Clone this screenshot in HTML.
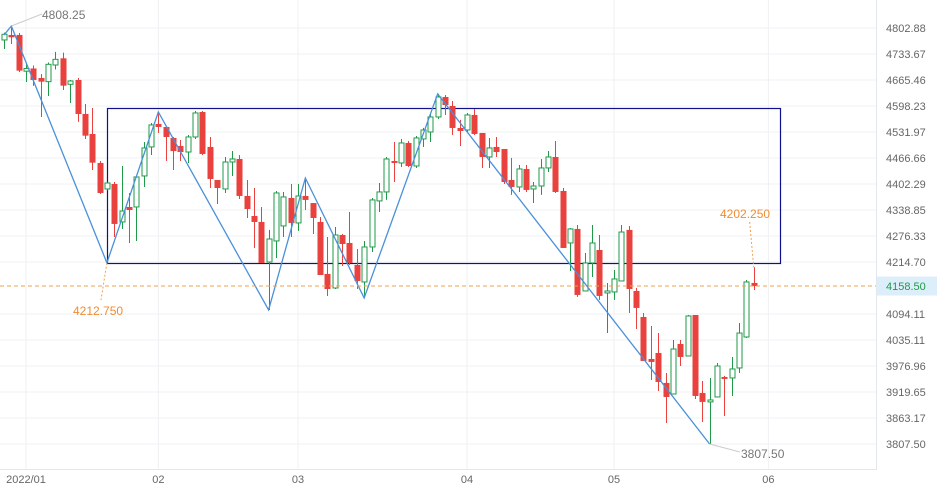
<!DOCTYPE html>
<html><head><meta charset="utf-8"><style>
html,body{margin:0;padding:0;background:#fff;}
svg{display:block;font-family:"Liberation Sans",sans-serif;}
</style></head><body>
<svg id="chart" width="937" height="499" viewBox="0 0 937 499" xmlns="http://www.w3.org/2000/svg">
<rect x="0" y="0" width="937" height="499" fill="#fff"/>
<g id="grid"></g>
<g id="box"></g>
<g id="candles"></g>
<g id="zig"></g>
<g id="ann"></g>
<g id="yaxis"></g>
<g id="xaxis"></g>
</svg>
<script>
const opens=[4770.9,4784.3,4784.3,4688.5,4695.6,4670.7,4661.1,4704.7,4722.3,4654.3,4665.5,4577.8,4527.0,4454.3,4390.1,4402.3,4310.0,4346.2,4346.2,4422.1,4494.3,4552.4,4544.7,4516.9,4496.8,4481.6,4519.4,4582.9,4494.3,4412.2,4390.1,4456.7,4464.2,4373.0,4324.4,4310.0,4214.7,4264.5,4300.4,4368.1,4307.6,4373.0,4355.7,4310.0,4186.7,4154.0,4278.7,4259.7,4207.7,4168.0,4250.2,4360.9,4382.8,4459.2,4454.3,4504.3,4446.8,4514.4,4532.0,4570.2,4621.5,4598.2,4542.2,4537.1,4575.3,4529.5,4469.2,4494.3,4489.2,4412.2,4395.0,4439.4,4390.1,4397.4,4441.9,4469.2,4385.2,4259.7,4293.2,4147.1,4212.4,4243.1,4142.5,4144.8,4170.3,4290.9,4147.1,4087.3,3992.6,4006.0,3939.5,3915.3,4026.2,3999.3,4091.8,3917.5,3898.0,3908.8,3952.7,3950.5,3972.6,4041.9,4165.7];
const highs=[4790.4,4808.25,4789.6,4711.4,4703.5,4681.2,4711.4,4739.2,4737.3,4665.5,4670.7,4603.4,4593.1,4459.2,4407.0,4407.2,4446.8,4380.3,4419.6,4506.8,4554.9,4582.9,4544.7,4519.4,4511.9,4524.4,4585.5,4585.5,4519.4,4412.2,4469.2,4484.0,4474.2,4412.2,4392.5,4346.2,4291.0,4385.2,4382.8,4402.3,4402.3,4412.2,4355.7,4322.0,4274.0,4297.9,4281.1,4334.0,4245.5,4264.5,4368.1,4404.7,4469.2,4506.8,4514.4,4509.3,4521.9,4542.3,4580.4,4629.3,4626.7,4611.0,4562.6,4580.4,4590.6,4529.5,4516.9,4519.4,4489.2,4466.7,4449.3,4449.3,4407.2,4464.2,4484.0,4509.3,4392.5,4295.5,4302.8,4235.9,4302.8,4278.7,4165.7,4196.0,4302.8,4300.4,4154.0,4096.4,4066.9,4050.8,3961.5,4035.1,4035.1,4091.8,4091.8,3943.9,3950.5,3983.7,3955.0,3997.1,4073.7,4172.6,4202.25];
const lows=[4747.0,4760.3,4686.1,4660.3,4650.2,4570.2,4624.1,4692.9,4639.6,4606.0,4557.6,4514.4,4436.9,4377.9,4387.0,4274.0,4293.2,4259.7,4264.5,4395.0,4474.2,4529.5,4459.2,4436.9,4459.2,4454.3,4514.4,4474.2,4392.5,4353.3,4380.3,4422.1,4365.7,4319.6,4247.9,4212.4,4103.3,4224.2,4274.0,4274.0,4288.6,4338.9,4281.1,4184.3,4135.6,4151.7,4205.4,4207.7,4151.7,4133.3,4238.4,4334.0,4363.3,4407.2,4444.3,4444.3,4441.9,4494.3,4506.8,4565.1,4575.3,4524.4,4496.8,4529.5,4524.4,4441.9,4441.9,4469.2,4402.3,4375.5,4382.8,4382.8,4355.7,4375.5,4432.0,4380.3,4247.9,4193.7,4133.3,4147.1,4179.6,4126.4,4051.0,4126.4,4170.3,4096.4,4060.1,3988.2,3946.1,3921.9,3852.5,3915.3,3977.0,3999.3,3904.5,3854.6,3807.5,3908.8,3867.5,3911.0,3961.5,4039.6,4149.4];
const closes=[4786.1,4778.1,4689.9,4695.6,4665.5,4661.1,4706.5,4719.6,4650.7,4662.9,4577.8,4522.7,4455.0,4380.3,4404.8,4305.2,4336.4,4338.9,4419.6,4491.8,4549.8,4544.7,4519.4,4484.0,4481.6,4519.4,4580.4,4476.7,4414.7,4392.5,4456.7,4464.2,4373.0,4341.3,4310.0,4212.4,4269.2,4380.3,4370.6,4307.6,4373.0,4363.3,4319.6,4184.3,4151.7,4278.7,4257.3,4212.4,4170.3,4250.2,4363.3,4382.8,4464.2,4454.3,4504.3,4446.8,4516.9,4537.1,4570.2,4621.5,4600.8,4542.2,4534.5,4575.3,4527.0,4469.2,4491.8,4481.6,4407.2,4395.0,4439.4,4387.7,4397.4,4441.9,4469.2,4382.8,4247.9,4293.2,4137.9,4212.4,4259.7,4135.6,4147.1,4175.0,4285.8,4151.7,4108.0,3988.2,3986.0,3941.7,3908.8,4014.9,3997.1,4089.6,3911.0,3898.0,3902.3,3977.0,3948.3,3970.4,4050.8,4168.0,4158.50];
const tickValues=[4802.88,4733.67,4665.46,4598.23,4531.97,4466.66,4402.29,4338.85,4276.33,4214.70,4094.11,4035.11,3976.96,3919.65,3863.17,3807.50];
const monthLabels=["2022/01","02","03","04","05","06"];
const monthIdx=[3,21,40,63,83,104];
const zigIdx=[0,1,14,21,36,41,49,59,96];
const zigVal=[4784,4808.25,4212.75,4582.9,4103.3,4417,4131,4629.3,3807.5];
const boxStart=14, boxEnd=105.6, boxTop=4593.1, boxBottom=4212.75;
const lastPrice=4158.50;

const NS="http://www.w3.org/2000/svg";
const PMAX=4802.88,PMIN=3807.5,YT=28,YB=444;
function y(p){return YT+(Math.log(PMAX)-Math.log(p))/(Math.log(PMAX)-Math.log(PMIN))*(YB-YT);}
function x(i){return 4+i*7.35;}
function el(tag,attrs,parent,txt){const e=document.createElementNS(NS,tag);for(const k in attrs)e.setAttribute(k,attrs[k]);if(txt!==undefined)e.textContent=txt;parent.appendChild(e);return e;}
const R=876, BOT=469;
const grid=document.getElementById('grid');
tickValues.forEach(v=>{const l=el('line',{x1:0,x2:R,y1:y(v),y2:y(v),stroke:'#eef0f3','stroke-width':1},grid);

});
monthIdx.forEach(i=>{const l=el('line',{x1:x(i),x2:x(i),y1:0,y2:BOT,stroke:'#eef0f3','stroke-width':1},grid);

});
const fr=el('path',{d:`M${R}.5 0V${BOT}.5H0`,fill:'none',stroke:'#e4e7eb'},grid);



const box=document.getElementById('box');
const bx=el('rect',{x:Math.round(x(boxStart))+0.5,y:Math.round(y(boxTop))+0.5,width:Math.round(x(boxEnd)-x(boxStart)),height:Math.round(y(boxBottom)-y(boxTop)),fill:'none',stroke:'#10108a','stroke-width':1.2},box);



const cg=document.getElementById('candles');
for(let i=0;i<opens.length;i++){
  const up=closes[i]>=opens[i];const col=up?'#1e9a48':'#e8413e';
  const g=el('g',{},cg);
  
  
  const cx=Math.round(x(i))+0.5;
  const top=y(Math.max(opens[i],closes[i])),bot=y(Math.min(opens[i],closes[i]));
  el('line',{x1:cx,x2:cx,y1:y(highs[i]),y2:y(lows[i]),stroke:col,'stroke-width':1},g);
  if(up){el('rect',{x:cx-2.5,y:top,width:5,height:Math.max(bot-top,1),fill:'#fff',stroke:col,'stroke-width':1},g);}
  else{el('rect',{x:cx-3,y:top,width:6,height:Math.max(bot-top,1.5),fill:col},g);}
}

const zg=document.getElementById('zig');
const pts=zigIdx.map((i,k)=>x(i)+','+y(zigVal[k])).join(' ');
const zl=el('polyline',{points:pts,fill:'none',stroke:'#4a90d9','stroke-width':1.3},zg);



const ann=document.getElementById('ann');
const pl=el('line',{x1:0,x2:R,y1:y(lastPrice),y2:y(lastPrice),stroke:'#f0a050','stroke-width':1,'stroke-dasharray':'4,3'},ann);


function lab(t,tx,ty,col,name){const e=el('text',{x:tx,y:ty,fill:col,'font-size':12},ann,t);

return e;}
el('line',{x1:x(1),y1:y(4808.25),x2:42,y2:14,stroke:'#ccc','stroke-width':1},ann);
lab('4808.25',42,19,'#777','high-label');
el('line',{x1:x(14),y1:y(4212.75),x2:101,y2:300,stroke:'#f0a050','stroke-dasharray':'2,2'},ann);
lab('4212.750',73,315,'#f08c30','low-box-label');
el('line',{x1:x(102)-4,y1:222,x2:x(102),y2:y(4202.25),stroke:'#f0a050','stroke-dasharray':'2,2'},ann);
lab('4202.250',720,218,'#f08c30','last-high-label');
el('line',{x1:x(96),y1:y(3807.5),x2:740,y2:452,stroke:'#ccc'},ann);
lab('3807.50',741,458,'#777','low-label');

const ya=document.getElementById('yaxis');
tickValues.forEach(v=>{const t=el('text',{x:886,y:y(v)+4,fill:'#666','font-size':11},ya,v.toFixed(2));

});
const pb=el('rect',{x:R+1,y:y(lastPrice)-9.5,width:61,height:19,fill:'#ddeefb'},ya);


const pt=el('text',{x:886,y:y(lastPrice)+4,fill:'#1e9a48','font-size':11},ya,lastPrice.toFixed(2));



const xa=document.getElementById('xaxis');
monthLabels.forEach((m,k)=>{const t=el('text',{x:x(monthIdx[k]),y:483,fill:'#666','font-size':11,'text-anchor':'middle'},xa,m);

});
</script>
</body></html>
